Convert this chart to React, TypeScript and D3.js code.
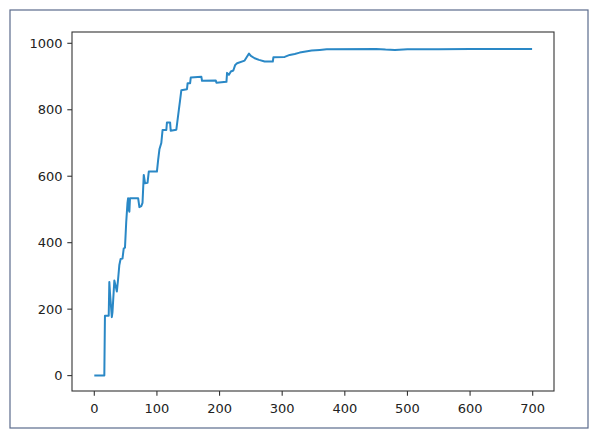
import React from "react";
import * as d3 from "d3";

const xValues: number[] = [0,16,17,23,24,25,28,29,32,34,36,38,40,42,45,47,49,51,53,54,55,56,57,70,72,75,77,79,81,85,87,100,102,104,107,109,115,116,121,122,131,133,135,137,139,148,149,153,154,171,172,194,195,211,212,215,218,222,225,228,240,244,247,250,256,263,272,285,286,304,308,312,320,328,340,347,360,371,450,465,480,500,550,600,699];
const yValues: number[] = [0,0,180,180,282,250,176,190,286,270,253,290,333,351,352,383,385,463,520,534,500,493,534,534,507,510,520,604,579,580,614,614,650,681,700,739,739,762,762,737,740,770,800,829,859,862,880,880,897,899,887,888,881,884,911,905,915,918,935,940,948,960,969,962,955,950,945,945,958,959,962,965,968,972,976,978,980,982,983,981,980,982,982,983,983];

const xTicks: number[] = [0,100,200,300,400,500,600,700];
const yTicks: number[] = [0,200,400,600,800,1000];

export default function App() {
  const W = 600, H = 438;
  const left = 72, right = 554, top = 32, bottom = 391;
  const x = d3.scaleLinear().domain([-35.6, 734]).range([left, right]);
  const y = d3.scaleLinear().domain([-46.3, 1034]).range([bottom, top]);
  const pts = xValues.map((v, i) => [v, yValues[i]] as [number, number]);
  const line = d3.line<[number, number]>().x(d => x(d[0])).y(d => y(d[1]));
  const font = "'DejaVu Sans', sans-serif";
  return (
    <svg width={W} height={H} style={{ position: "absolute", left: 0, top: 0, background: "#fff" }}>
      <rect x={10} y={10} width={578} height={418} fill="#fff" stroke="#5b6b8c" strokeWidth={1.2} />
      <path d={line(pts) || ""} fill="none" stroke="#2a88c6" strokeWidth={2} strokeLinejoin="round" />
      <rect x={left} y={top} width={right - left} height={bottom - top} fill="none" stroke="#333" strokeWidth={1.1} />
      {yTicks.map(t => (
        <g key={"y" + t}>
          <line x1={left - 4.7} x2={left} y1={y(t)} y2={y(t)} stroke="#333" strokeWidth={1.1} />
          <text x={left - 9.5} y={y(t)} dy="0.35em" textAnchor="end" fontFamily={font} fontSize={13} fill="#222">{t}</text>
        </g>
      ))}
      {xTicks.map(t => (
        <g key={"x" + t}>
          <line x1={x(t)} x2={x(t)} y1={bottom} y2={bottom + 4.7} stroke="#333" strokeWidth={1.1} />
          <text x={x(t)} y={bottom + 22} textAnchor="middle" fontFamily={font} fontSize={13} fill="#222">{t}</text>
        </g>
      ))}
    </svg>
  );
}
